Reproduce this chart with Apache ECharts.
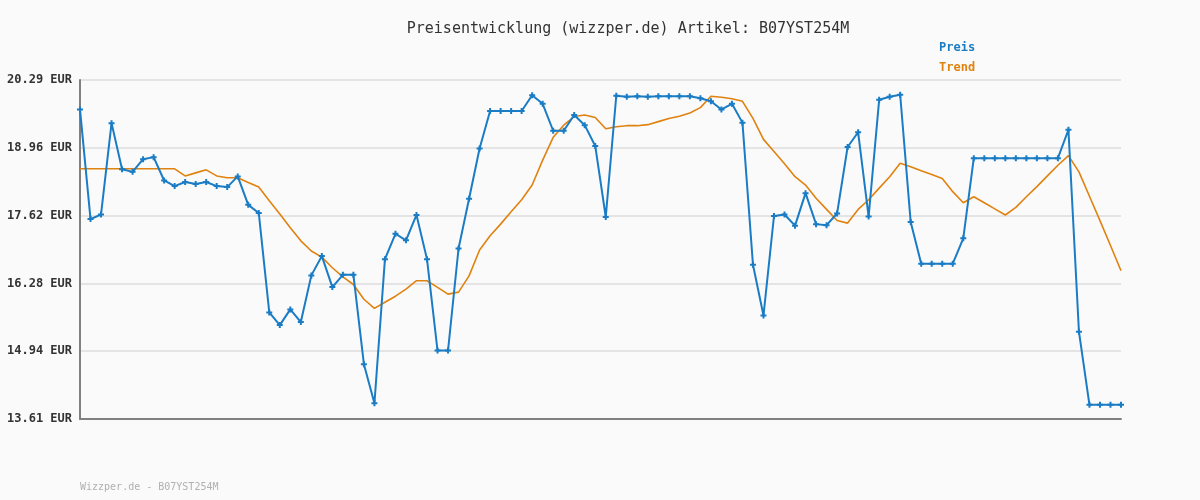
<!DOCTYPE html>
<html>
<head>
<meta charset="utf-8">
<script src="https://cdn.jsdelivr.net/npm/echarts@6/dist/echarts.min.js"></script>
<style>
html,body{margin:0;padding:0;background:#fafafa;}
#chart{width:1200px;height:500px;}
</style>
</head>
<body>
<div id="chart"></div>
<script>
var titleText = 'Preisentwicklung (wizzper.de) Artikel: B07YST254M';
var footerText = 'Wizzper.de - B07YST254M';
var seriesNames = ['Preis', 'Trend'];
var yTickLabels = ['13.61', '14.94', '16.28', '17.62', '18.96', '20.29'];
var yMin = 13.61, yMax = 20.29;

var preis = [
19.71,17.55,17.64,19.44,18.53,18.48,18.73,18.77,18.31,18.20,
18.28,18.24,18.28,18.20,18.18,18.39,17.83,17.67,15.71,15.46,
15.77,15.52,16.44,16.82,16.21,16.45,16.45,14.69,13.92,16.76,
17.26,17.13,17.63,16.76,14.96,14.96,16.97,17.95,18.94,19.68,
19.68,19.68,19.68,19.99,19.82,19.29,19.29,19.60,19.40,18.99,
17.59,19.98,19.96,19.97,19.96,19.97,19.97,19.97,19.97,19.93,
19.87,19.71,19.82,19.45,16.65,15.65,17.61,17.64,17.42,18.06,
17.45,17.43,17.66,18.97,19.26,17.60,19.90,19.96,20.00,17.49,
16.67,16.67,16.67,16.67,17.17,18.75,18.75,18.75,18.75,18.75,
18.75,18.75,18.75,18.75,19.31,15.33,13.89,13.89,13.89,13.89
];

var trend = [
18.54,18.54,18.54,18.54,18.54,18.54,18.54,18.54,18.54,18.54,
18.40,18.46,18.52,18.40,18.365,18.365,18.27,18.18,17.91,17.65,
17.38,17.12,16.92,16.80,16.59,16.41,16.26,15.97,15.79,15.91,
16.03,16.17,16.335,16.335,16.205,16.07,16.11,16.43,16.94,17.22,
17.45,17.695,17.93,18.22,18.71,19.16,19.40,19.57,19.60,19.55,
19.33,19.37,19.39,19.39,19.41,19.47,19.53,19.575,19.64,19.745,
19.97,19.95,19.92,19.87,19.535,19.12,18.88,18.64,18.385,18.22,
17.96,17.74,17.52,17.47,17.74,17.93,18.16,18.385,18.65,18.58,
18.50,18.43,18.35,18.09,17.87,17.99,17.87,17.75,17.63,17.78,
17.99,18.19,18.40,18.61,18.80,18.48,18.00,17.52,17.03,16.53
];

var categories = preis.map(function (_, i) { return String(i + 1); });
var interval = (yMax - yMin) / (yTickLabels.length - 1);

var chart = echarts.init(document.getElementById('chart'), null, {renderer: 'canvas'});
var mono = '"DejaVu Sans Mono", "Liberation Mono", monospace';
chart.setOption({
  backgroundColor: '#fafafa',
  animation: false,
  title: {
    text: titleText,
    left: 623, top: 17, textAlign: 'center',
    textStyle: {fontFamily: mono, fontSize: 15, fontWeight: 'normal', color: '#333'}
  },
  legend: {
    orient: 'vertical', left: 929, top: 37, itemGap: 8, itemWidth: 0, itemHeight: 0,
    data: [
      {name: seriesNames[0], icon: 'none', textStyle: {color: '#1a7cc4'}},
      {name: seriesNames[1], icon: 'none', textStyle: {color: '#e0820f'}}
    ],
    textStyle: {fontFamily: mono, fontSize: 12, fontWeight: 'bold', padding: 0}
  },
  graphic: [{
    type: 'text', left: 80, top: 482,
    style: {text: footerText, fill: '#b0b0b0', font: '10px ' + mono}
  }],
  grid: {left: 80, right: 79, top: 80, bottom: 81, containLabel: false},
  xAxis: {
    type: 'category', data: categories, boundaryGap: false,
    axisLine: {show: true, lineStyle: {color: '#808080', width: 2}},
    axisTick: {show: false}, axisLabel: {show: false}, splitLine: {show: false}
  },
  yAxis: {
    type: 'value', min: yMin, max: yMax, interval: interval,
    axisLine: {show: true, lineStyle: {color: '#808080', width: 2}},
    axisTick: {show: false},
    axisLabel: {
      margin: 8, fontFamily: mono, fontSize: 12, fontWeight: 'bold', color: '#333',
      formatter: function (v) {
        var idx = Math.round((v - yMin) / interval);
        return yTickLabels[idx] + ' EUR';
      }
    },
    splitLine: {show: true, lineStyle: {color: '#e4e4e4', width: 2}}
  },
  series: [
    {
      name: seriesNames[0], type: 'line', data: preis,
      symbol: 'path://M2,0H4V2H6V4H4V6H2V4H0V2H2Z', symbolSize: 6, showAllSymbol: true,
      itemStyle: {color: '#1a7cc4'},
      lineStyle: {color: '#1a7cc4', width: 2}, z: 3
    },
    {
      name: seriesNames[1], type: 'line', data: trend, symbol: 'none',
      itemStyle: {color: '#e0820f'},
      lineStyle: {color: '#e0820f', width: 1.6}, z: 2
    }
  ]
});
</script>
</body>
</html>
